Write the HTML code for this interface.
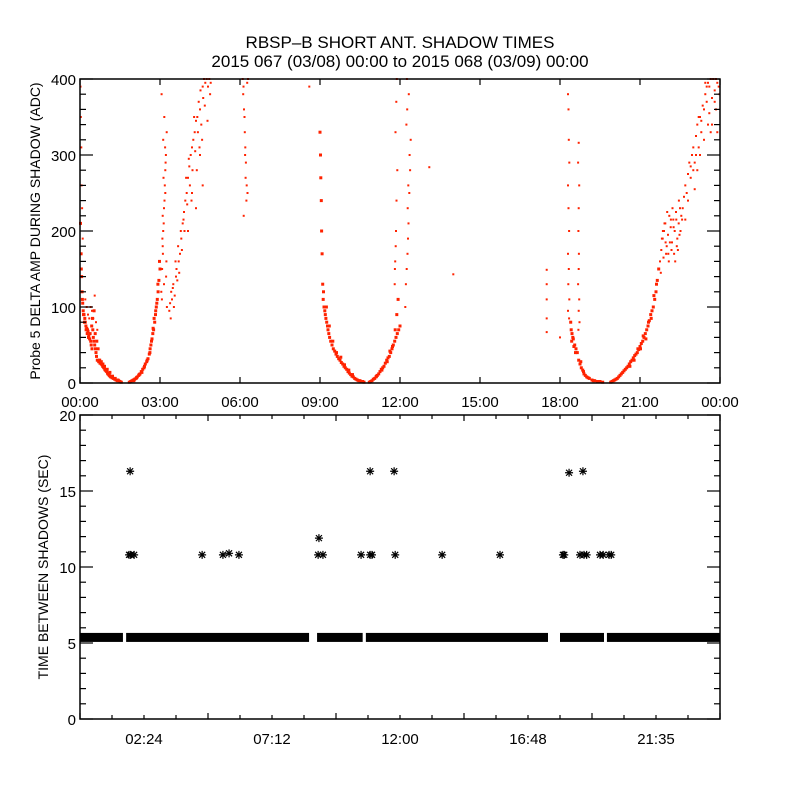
<!DOCTYPE html>
<html><head><meta charset="utf-8"><style>
html,body{margin:0;padding:0;background:#fff;}
svg{display:block;font-family:"Liberation Sans",sans-serif;}
</style></head><body>
<svg id="chart" width="800" height="800" viewBox="0 0 800 800">
<rect width="800" height="800" fill="#fff"/>
<text x="400" y="48" text-anchor="middle" font-size="17">RBSP–B SHORT ANT. SHADOW TIMES</text>
<text x="400" y="67" text-anchor="middle" font-size="17">2015 067 (03/08) 00:00 to 2015 068 (03/09) 00:00</text>
<g id="topPanel"></g>
<g id="botPanel"></g>
<text transform="translate(40,231) rotate(-90)" text-anchor="middle" font-size="14">Probe 5 DELTA AMP DURING SHADOW (ADC)</text>
<text transform="translate(48,567) rotate(-90)" text-anchor="middle" font-size="14">TIME BETWEEN SHADOWS (SEC)</text>
</svg>
<script>
// ---------- top panel data (hours, ADC) ----------
const descA_t=[0.02,0.04,0.06,0.08,0.1,0.12,0.15,0.18,0.2,0.22,0.25,0.28,0.3,0.33,0.36,0.4,0.42,0.45,0.48,0.5,0.52,0.55,0.58,0.6,0.62,0.65,0.7,0.72,0.75,0.78,0.8,0.83,0.85,0.88,0.9,0.93,0.95,0.98,1.0,1.03,1.05,1.08,1.1,1.13,1.15,1.2,1.25,1.3,1.35,1.4,1.45,1.5,1.55,0.05,0.09,0.13,0.17,0.23,0.27,0.32,0.38,0.44,0.47,0.53,0.57,0.63,0.68,0.74,0.8,0.86,0.92,1.02,1.12,1.22,1.32,1.42];
const descA_v=[210,170,140,120,105,95,90,85,80,75,72,70,68,62,58,55,50,45,70,60,55,50,45,40,35,30,28,30,26,27,25,24,22,21,20,18,17,16,15,13,12,11,10,9,8,7,6,5,4,3,3,2,1,150,110,90,80,70,65,60,65,75,85,95,65,55,45,30,28,25,22,18,14,9,6,4];
const scatA_t=[0.02,0.03,0.05,0.06,0.08,0.1,0.3,0.35,0.4,0.45,0.5,0.55,0.6,0.65,0.25,0.2];
const scatA_v=[390,350,310,260,230,190,90,85,100,95,85,115,80,70,100,110];
const ascA_t=[1.85,1.9,1.95,2.0,2.05,2.1,2.15,2.2,2.25,2.3,2.35,2.4,2.45,2.5,2.55,2.6,2.63,2.66,2.7,2.73,2.76,2.8,2.83,2.86,2.9,2.93,2.96,3.0,2.62,2.68,2.74,2.78,2.84,2.88,2.92,2.98,2.02,2.12,2.22,2.32,2.42,2.52];
const ascA_v=[1,2,3,4,5,6,8,10,12,15,18,20,25,28,32,38,45,50,58,65,70,80,90,100,110,120,135,150,40,55,72,85,95,105,130,160,3,7,11,14,22,30];
const colA_t=[3.05,3.08,3.1,3.12,3.15,3.18,3.2,3.22,3.25,3.07,3.11,3.14,3.17,3.21,3.24,3.09,3.13,3.19,3.23,3.16,3.06,3.26,3.1,3.2,3.15,3.12];
const colA_v=[120,150,180,200,230,260,280,300,330,110,170,210,240,290,160,190,270,310,140,350,380,100,220,250,130,320];
const branchB_t=[3.35,3.38,3.42,3.45,3.48,3.5,3.55,3.6,3.62,3.65,3.7,3.72,3.75,3.8,3.82,3.85,3.9,3.92,3.95,4.0,4.02,4.05,4.1,4.12,4.15,4.2,4.22,4.25,4.3,4.32,4.35,4.4,4.42,4.45,4.5,4.52,4.55,4.6,4.62,4.65,4.7,4.75,4.8,4.85,4.9,3.4,3.52,3.58,3.68,3.78,3.88,3.98,4.08,4.18,4.28,4.38,4.48,4.58,4.68,4.78,4.88,4.05,4.2,4.35,4.5,4.6];
const branchB_v=[95,105,120,110,125,130,115,140,150,135,160,145,170,190,175,210,225,200,240,250,235,270,285,260,300,310,280,320,330,305,345,350,330,370,360,385,340,390,375,400,395,400,390,400,395,85,100,160,180,200,215,270,295,240,350,280,310,320,365,345,380,200,250,230,300,260];
const colB_t=[6.1,6.12,6.15,6.18,6.2,6.22,6.25,6.28,6.3,6.14,6.19,6.24,6.17,6.21,6.13,6.27];
const colB_v=[400,380,360,330,310,290,260,250,400,220,300,240,350,270,390,395];
const lone_t=[8.6,13.1,14.0,18.0];
const lone_v=[390,284,143,60];
const descC_t=[9.0,9.02,9.03,9.05,9.06,9.08,9.1,9.12,9.15,9.18,9.2,9.22,9.25,9.28,9.3,9.33,9.36,9.4,9.45,9.5,9.55,9.6,9.65,9.7,9.75,9.8,9.85,9.9,9.95,10.0,10.05,10.1,10.15,10.2,10.25,10.3,10.35,10.4,10.45,10.5,10.55,10.6,10.65,9.13,9.24,9.35,9.48,9.62,9.78,9.92,10.08,10.22];
const descC_v=[330,300,270,240,200,170,130,110,100,95,90,85,80,75,70,65,60,55,50,45,42,38,35,32,30,27,25,22,20,18,15,13,11,9,8,6,5,4,3,3,2,2,1,120,100,75,55,40,34,24,17,11];
const ascC_t=[10.85,10.9,10.95,11.0,11.05,11.1,11.15,11.2,11.25,11.3,11.35,11.4,11.45,11.5,11.55,11.6,11.65,11.7,11.75,11.8,11.85,11.9,11.95,12.0,11.12,11.32,11.52,11.62,11.72,11.82,11.88,11.93];
const ascC_v=[1,2,3,5,6,8,10,12,15,18,20,22,26,30,33,35,40,45,50,55,60,65,70,75,9,17,28,42,48,70,90,110];
const colC_t=[11.8,11.82,11.85,11.87,11.9,11.83,11.86,11.88,11.84,11.81,12.2,12.22,12.25,12.28,12.3,12.32,12.35,12.38,12.4,12.24,12.27,12.33,12.29,12.36,12.26,12.31];
const colC_v=[130,160,200,240,280,330,370,400,180,150,100,130,150,170,190,210,250,280,320,340,360,380,230,300,400,260];
const colD_t=[17.5,17.5,17.5,17.5,17.5,18.3,18.32,18.33,18.35,18.3,18.32,18.34,18.3,18.33,18.31,18.35,18.3,18.34,18.7,18.68,18.72,18.7,18.69,18.71,18.7,18.68,18.72,18.7,18.73,18.69];
const colD_v=[149,130,110,85,67,380,360,320,290,260,230,200,170,150,130,110,95,85,316,290,260,230,200,170,150,130,110,95,80,70];
const descD_t=[18.4,18.42,18.45,18.48,18.5,18.55,18.6,18.65,18.7,18.75,18.8,18.85,18.9,18.95,19.0,19.1,19.2,19.3,19.4,19.5,19.6,18.44,18.52,18.58,18.78,18.88,19.05,19.25];
const descD_v=[80,70,65,60,58,50,45,40,30,25,20,17,12,10,8,6,4,3,2,2,1,55,48,40,28,15,7,3];
const ascD_t=[19.9,19.95,20.0,20.05,20.1,20.15,20.2,20.25,20.3,20.35,20.4,20.45,20.5,20.55,20.6,20.65,20.7,20.75,20.8,20.85,20.9,20.95,21.0,21.05,21.1,21.15,21.2,21.25,21.3,21.35,21.4,21.45,21.5,21.55,21.6,21.65,21.7,20.62,20.78,20.92,21.02,21.12,21.22,21.32,21.42,21.52,21.62];
const ascD_v=[1,2,3,4,5,6,8,10,12,14,16,18,20,22,25,28,30,33,36,38,40,44,48,52,55,60,65,70,75,82,90,95,100,110,120,135,150,22,30,45,45,62,58,80,85,115,130];
const clusterE_t=[21.75,21.8,21.85,21.9,21.95,22.0,22.05,22.1,22.15,22.2,22.25,22.3,22.35,22.4,22.45,22.5,22.55,21.78,21.88,21.98,22.08,22.18,22.28,22.38,22.48,22.58,21.82,21.92,22.02,22.12,22.22,22.32,22.42,22.52,21.86,21.96,22.06,22.16,22.26,22.36,22.46];
const clusterE_v=[160,175,190,200,210,180,195,220,205,185,215,200,225,190,210,230,220,145,165,170,160,175,170,180,195,215,190,210,225,185,230,160,175,200,200,185,170,215,205,215,240];
const topF_t=[22.6,22.65,22.7,22.75,22.8,22.85,22.9,22.95,23.0,23.05,23.1,23.15,23.2,23.25,23.3,23.35,23.4,23.45,23.5,23.55,23.6,23.65,23.7,23.75,23.8,23.85,23.9,23.95,22.7,22.8,22.9,23.0,23.1,23.2,23.3,23.4,23.5,23.6,23.7,23.8,23.9,23.05,23.25,23.45,23.65,23.85,23.98,23.55,23.75,23.15];
const topF_v=[230,245,260,250,275,290,270,300,310,290,325,340,310,350,330,365,360,380,370,395,390,400,375,400,385,400,395,390,215,240,285,280,300,350,345,320,390,355,340,370,330,255,300,395,330,360,380,340,400,280];
// ---------- bottom panel data (hours, seconds) ----------
const bandStart=[0.0,1.73,8.89,10.72,18.0,19.76];
const bandEnd=[1.61,8.59,10.6,17.55,19.65,24.0];
const bandValue=5.4;
const starT=[1.84,1.9,2.03,1.88,4.58,5.36,5.59,5.96,8.96,8.93,9.11,10.54,10.88,10.95,10.88,11.78,11.82,13.58,15.75,18.11,18.16,18.75,18.9,19.0,19.5,19.62,19.84,19.92,18.34,18.86];
const starV=[10.8,10.8,10.8,16.3,10.8,10.8,10.9,10.8,11.9,10.8,10.8,10.8,10.8,10.8,16.3,16.3,10.8,10.8,10.8,10.8,10.8,10.8,10.8,10.8,10.8,10.8,10.8,10.8,16.2,16.3];
// ---------- tick labels ----------
const topXLabels=["00:00","03:00","06:00","09:00","12:00","15:00","18:00","21:00","00:00"];
const topYLabels=["0","100","200","300","400"];
const botXLabels=["02:24","07:12","12:00","16:48","21:35"];
const botYLabels=["0","5","10","15","20"];

const NS="http://www.w3.org/2000/svg";
function mk(parent,tag,attrs){const e=document.createElementNS(NS,tag);for(const k in attrs)e.setAttribute(k,attrs[k]);parent.appendChild(e);return e;}
const L=80,R=720;
const tx=h=>L+h/24*(R-L);
const T_TOP=79,T_BOT=383;
const ty=v=>T_BOT-v/400*(T_BOT-T_TOP);
const B_TOP=415,B_BOT=719;
const by=v=>B_BOT-v/20*(B_BOT-B_TOP);

const topG=document.getElementById('topPanel');
const botG=document.getElementById('botPanel');

const groups=[[descA_t,descA_v,3],[scatA_t,scatA_v,2],[ascA_t,ascA_v,3],[colA_t,colA_v,2],[branchB_t,branchB_v,2],[colB_t,colB_v,2],[lone_t,lone_v,2],[descC_t,descC_v,3],[ascC_t,ascC_v,3],[colC_t,colC_v,2],[colD_t,colD_v,2],[descD_t,descD_v,3],[ascD_t,ascD_v,3],[clusterE_t,clusterE_v,2],[topF_t,topF_v,2]];
groups.forEach(g=>{
  const ts=g[0],vs=g[1],s=g[2];
  for(let i=0;i<ts.length;i++){
    const r=mk(topG,'rect',{x:(tx(ts[i])-s/2).toFixed(1),y:(ty(vs[i])-s/2).toFixed(1),width:s,height:s,fill:'#ff2200'});
    
    
  }
});
const tf=mk(topG,'rect',{x:L,y:T_TOP,width:R-L,height:T_BOT-T_TOP,fill:'none',stroke:'#000','stroke-width':1.5});


for(let v=0;v<=400;v+=20){
  const len=(v%100===0)?13:6;
  mk(topG,'line',{x1:L,x2:L+len,y1:ty(v),y2:ty(v),stroke:'#000','stroke-width':1.2});
  mk(topG,'line',{x1:R,x2:R-len,y1:ty(v),y2:ty(v),stroke:'#000','stroke-width':1.2});
}
topYLabels.forEach((lab,i)=>{
  const t=mk(topG,'text',{x:L-4,y:ty(i*100)+6,'text-anchor':'end','font-size':15});
  t.textContent=lab;
  
  
});
topXLabels.forEach((lab,i)=>{
  const x=tx(i*3);
  mk(topG,'line',{x1:x,x2:x,y1:T_TOP,y2:T_TOP+6,stroke:'#000','stroke-width':1.2});
  mk(topG,'line',{x1:x,x2:x,y1:T_BOT,y2:T_BOT-6,stroke:'#000','stroke-width':1.2});
  const t=mk(topG,'text',{x:x,y:407,'text-anchor':'middle','font-size':15});
  t.textContent=lab;
  
  
});

for(let i=0;i<bandStart.length;i++){
  const r=mk(botG,'rect',{x:tx(bandStart[i]),y:by(bandValue)-4,width:tx(bandEnd[i])-tx(bandStart[i]),height:9,fill:'#000'});
  
  
}
for(let i=0;i<starT.length;i++){
  const x=tx(starT[i]),y=by(starV[i]);
  const p=mk(botG,'path',{d:`M${x-4} ${y}H${x+4}M${x} ${y-4}V${y+4}M${x-3} ${y-3}L${x+3} ${y+3}M${x-3} ${y+3}L${x+3} ${y-3}`,stroke:'#000','stroke-width':1.2,fill:'none'});
  
  
}
const bf=mk(botG,'rect',{x:L,y:B_TOP,width:R-L,height:B_BOT-B_TOP,fill:'none',stroke:'#000','stroke-width':1.5});


for(let v=0;v<=20;v+=1){
  const len=(v%5===0)?13:6;
  mk(botG,'line',{x1:L,x2:L+len,y1:by(v),y2:by(v),stroke:'#000','stroke-width':1.2});
  mk(botG,'line',{x1:R,x2:R-len,y1:by(v),y2:by(v),stroke:'#000','stroke-width':1.2});
}
botYLabels.forEach((lab,i)=>{
  const t=mk(botG,'text',{x:L-4,y:by(i*5)+6,'text-anchor':'end','font-size':15});
  t.textContent=lab;
  
  
});
for(let k=0;k<=20;k++){
  const x=tx(k*1.2);const len=(k%4===0)?6:4;
  mk(botG,'line',{x1:x,x2:x,y1:B_TOP,y2:B_TOP+len,stroke:'#000','stroke-width':1.2});
  mk(botG,'line',{x1:x,x2:x,y1:B_BOT,y2:B_BOT-len,stroke:'#000','stroke-width':1.2});
}
botXLabels.forEach((lab,i)=>{
  const t=mk(botG,'text',{x:tx((i+0.5)*4.8),y:744,'text-anchor':'middle','font-size':15});
  t.textContent=lab;
  
  
});
</script>
</body></html>
